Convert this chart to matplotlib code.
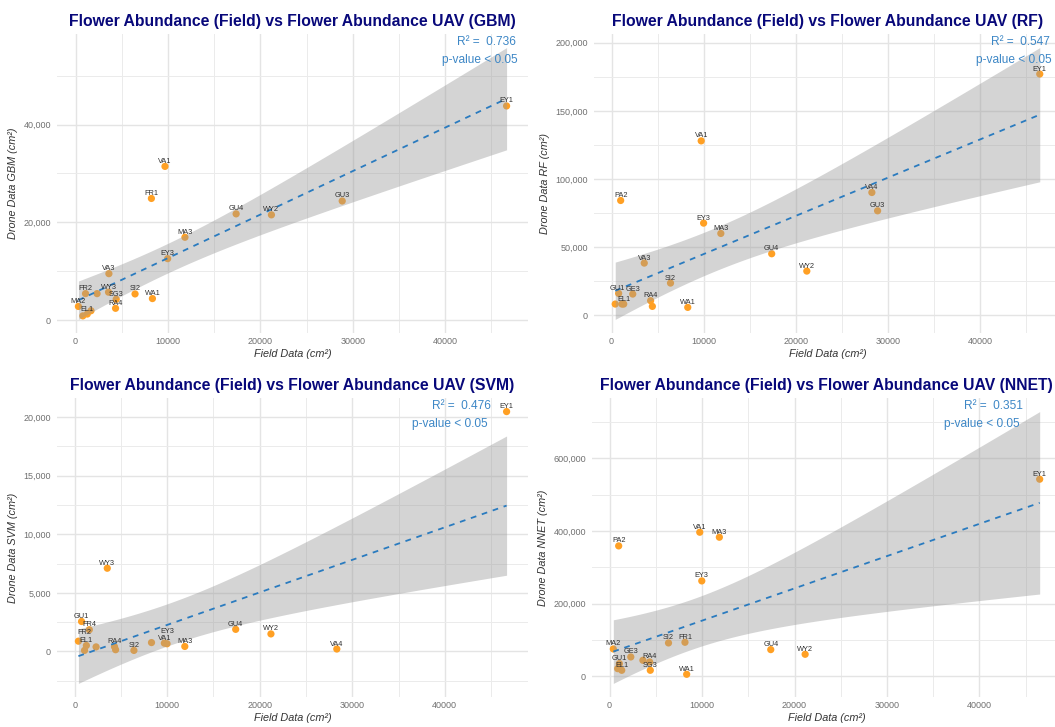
import numpy as np
import matplotlib
matplotlib.use('Agg')
import matplotlib.pyplot as plt
from matplotlib.ticker import MultipleLocator, AutoMinorLocator, FuncFormatter

plt.rcParams['font.family'] = ['Liberation Sans', 'DejaVu Sans']

# values (field area vs drone estimate, cm2)
gbm_labels = ['EY1', 'VA1', 'FR1', 'GU4', 'WY2', 'GU3', 'MA3', 'EY3', 'VA3', 'FR2',
              '', 'WY3', 'SG3', 'SI2', 'WA1', 'RA4', 'MA2', '', 'EL1', '']
gbm_x = [46650, 9680, 8210, 17380, 21200, 28860, 11840, 9970, 3610, 1080,
         2330, 3570, 4400, 6440, 8320, 4330, 310, 790, 1270, 1670]
gbm_y = [43800, 31450, 24900, 21750, 21550, 24380, 16970, 12600, 9530, 5450,
         5450, 5750, 4300, 5390, 4440, 2450, 2830, 900, 1280, 1950]

rf_labels = ['EY1', 'VA1', 'PA2', 'VA4', 'GU3', 'EY3', 'MA3', 'GU4', 'WY2', 'VA3',
             'SI2', 'GU1', 'GE3', '', '', 'EL1', 'RA4', '', 'WA1']
rf_x = [46470, 9730, 990, 28250, 28870, 9990, 11860, 17380, 21190, 3550,
        6400, 770, 2300, 400, 1130, 1320, 4240, 4430, 8270]
rf_y = [177000, 127960, 84250, 90110, 76680, 67640, 60070, 45180, 32480, 38340,
        23690, 16120, 15630, 8300, 8300, 8300, 10750, 6590, 5860]

svm_labels = ['EY1', 'WY3', 'GU1', 'FR4', 'FR2', 'EL1', '', '', 'RA4', '',
              'SI2', '', 'VA1', 'EY3', 'MA3', 'GU4', 'WY2', 'VA4']
svm_x = [46680, 3520, 740, 1580, 400, 1260, 1060, 2310, 4300, 4420,
         6400, 8300, 9690, 9980, 11900, 17400, 21210, 28330]
svm_y = [20480, 7100, 2550, 1850, 870, 500, 80, 380, 400, 140,
         80, 750, 700, 650, 420, 1880, 1490, 200]

nnet_labels = ['EY1', 'VA1', 'MA3', 'PA2', 'EY3', 'SI2', 'FR1', 'MA2', 'GU4', 'WY2',
               'GE3', '', 'RA4', 'SG3', 'GU1', 'EL1', '', 'WA1']
nnet_x = [46520, 9750, 11870, 980, 9970, 6370, 8150, 400, 17430, 21150,
          2290, 3600, 4330, 4400, 1055, 1310, 870, 8335]
nnet_y = [542200, 396300, 382600, 358700, 262400, 91740, 93580, 75230, 73400, 60550,
          53200, 44040, 39450, 16510, 34860, 16510, 21100, 5500]

r2_values = ['0.736', '0.547', '0.476', '0.351']

# label nudges (points) where the labels were pushed apart
nudges = {('SVM', 'FR2'): (4.3, 6.5), ('SVM', 'EY3'): (0, 8.6),
          ('RF', 'GU1'): (-1.2, 3.6)}


def t975(df):
    z = 1.959964
    return z + (z**3 + z) / (4 * df) + (5 * z**5 + 16 * z**3 + 3 * z) / (96 * df**2)


def fit_band(x, y, n=80):
    x = np.asarray(x, float)
    y = np.asarray(y, float)
    b, a = np.polyfit(x, y, 1)
    xs = np.linspace(x.min(), x.max(), n)
    fit = a + b * xs
    dof = len(x) - 2
    s = np.sqrt(np.sum((y - (a + b * x))**2) / dof)
    se = s * np.sqrt(1 / len(x) + (xs - x.mean())**2 / np.sum((x - x.mean())**2))
    t = t975(dof)
    return xs, fit, fit - t * se, fit + t * se


W, H = 1055, 727
fig = plt.figure(figsize=(W / 100, H / 100), dpi=100)

panels = [
    ('GBM', gbm_labels, gbm_x, gbm_y, 20000, r2_values[0], (57, 34, 471, 299), (0.975, 0.977)),
    ('RF', rf_labels, rf_x, rf_y, 50000, r2_values[1], (594, 34, 467, 299), (0.976, 0.98)),
    ('SVM', svm_labels, svm_x, svm_y, 5000, r2_values[2], (57, 398, 471, 299), (0.922, 0.915)),
    ('NNET', nnet_labels, nnet_x, nnet_y, 200000, r2_values[3], (592, 398, 469, 299), (0.919, 0.912)),
]

blue_txt = '#3D87C6'
for name, labels, xv, yv, ystep, r2, (l, t, w, h), (rx, px) in panels:
    ax = fig.add_axes([l / W, 1 - (t + h) / H, w / W, h / H])
    ax.scatter(xv, yv, s=27, color='#FFA024', edgecolors='none', zorder=2)
    xs, fit, lo, hi = fit_band(xv, yv)
    ax.fill_between(xs, lo, hi, color='#999999', alpha=0.42, linewidth=0, zorder=3)
    ax.plot(xs, fit, color='#2A7BBF', lw=1.3, dashes=(3.2, 3.2), zorder=4)
    for lab, x, y in zip(labels, xv, yv):
        if lab:
            off = nudges.get((name, lab), (0, 3.6))
            ax.annotate(lab, (x, y), xytext=off, textcoords='offset points',
                        ha='center', va='center', fontsize=5.3, color='#303030', zorder=5)
    ax.margins(0.05)

    ax.xaxis.set_major_locator(MultipleLocator(10000))
    ax.xaxis.set_minor_locator(AutoMinorLocator(2))
    ax.yaxis.set_major_locator(MultipleLocator(ystep))
    ax.yaxis.set_minor_locator(AutoMinorLocator(2))
    ax.yaxis.set_major_formatter(FuncFormatter(lambda v, p: '{:,.0f}'.format(v)))
    ax.xaxis.set_major_formatter(FuncFormatter(lambda v, p: '{:.0f}'.format(v)))
    ax.grid(which='major', color='#E4E4E4', lw=1.0)
    ax.grid(which='minor', color='#EBEBEB', lw=0.7)
    ax.set_axisbelow(True)
    for sp in ax.spines.values():
        sp.set_visible(False)
    ax.tick_params(which='both', length=0, labelsize=6.5, labelcolor='#707070')
    ax.tick_params(axis='y', pad=4.4)
    ax.tick_params(axis='x', pad=3.2)

    ax.set_xlabel('Field Data (cm²)', fontsize=7.8, style='italic', color='#333333', labelpad=2)
    ax.set_ylabel('Drone Data ' + name + ' (cm²)', fontsize=7.8, style='italic',
                  color='#333333', labelpad=4)
    ax.set_title('Flower Abundance (Field) vs Flower Abundance UAV (' + name + ')',
                 fontsize=11.3, fontweight='bold', color='#08087A', pad=5.5)
    ax.text(rx, 0.972, 'R² =  ' + r2, transform=ax.transAxes, ha='right', va='center',
            fontsize=8.6, color=blue_txt, zorder=6)
    ax.text(px, 0.913, 'p-value < 0.05', transform=ax.transAxes, ha='right', va='center',
            fontsize=8.6, color=blue_txt, zorder=6)

fig.savefig('out.png', dpi=100)
